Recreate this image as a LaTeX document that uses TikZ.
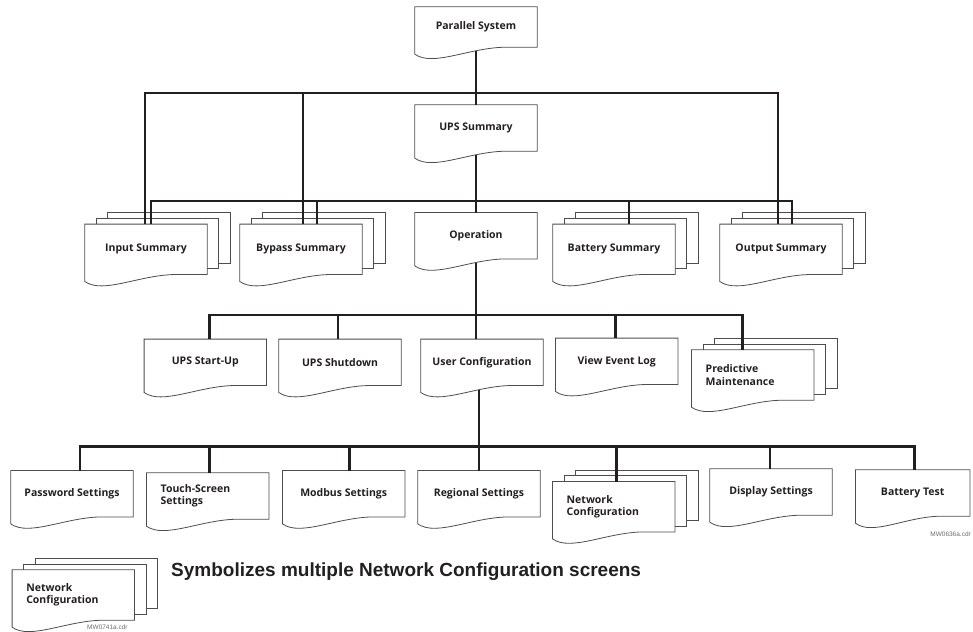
\documentclass[tikz,border=0pt]{standalone}
\usepackage{fontspec}
\setmainfont{Open Sans}
\newfontfamily\arialfont{Liberation Sans}
\definecolor{upsInk}{HTML}{231F20}
\definecolor{upsEdge}{HTML}{4D4D4D}
\definecolor{upsTag}{HTML}{6D6D6D}
\usetikzlibrary{calc}

\begin{document}
\begin{tikzpicture}[x=1pt, y=-1pt,
  outline/.style={draw=upsEdge, line width=0.8pt, line join=miter},
  page/.style={minimum width=122pt, minimum height=46pt, inner sep=0pt,
    font=\bfseries\fontsize{10.5}{12.5}\selectfont, text=upsInk,
    append after command={\pgfextra{\let\thispage\tikzlastnode
      \draw[outline] (\thispage.north west) -- (\thispage.north east) -- (\thispage.south east)
        -- ($(\thispage.south west)!0.75!(\thispage.south east)$)
        .. controls ($(\thispage.south west)!0.45!(\thispage.south east)$)
        and ($(\thispage.south west)!0.15!(\thispage.south east)+(0,20)$)
        .. ($(\thispage.south west)+(0,7)$) -- cycle;}}},
  pages/.style={page, minimum height=50pt,
    append after command={\pgfextra{\let\thispage\tikzlastnode
      \draw[outline] ($(\thispage.north west)+(11.5,0)$) -- ++(0,-5.8)
        -| ($(\thispage.south east)+(11.5,-5.8)$) -- ++(-11.5,0);
      \draw[outline] ($(\thispage.north west)+(23,-5.8)$) -- ++(0,-5.8)
        -| ($(\thispage.south east)+(23,-11.6)$) -- ++(-11.5,0);}}},
  twoline/.style={text width=94pt, align=left},
  link/.style={draw=upsInk, line width=2.6pt},
  tag/.style={font=\arialfont\fontsize{6.5}{8}\selectfont, text=upsTag, inner sep=0pt}
]
  \useasboundingbox (0,0) rectangle (973,631);

  \coordinate (bus0) at (0,93);
  \coordinate (bus1) at (0,201);
  \coordinate (bus2) at (0,315);
  \coordinate (bus3) at (0,446.7);

  \node[page, minimum height=40pt] (parallel) at (476,27) {Parallel System};
  \node[page] (ups) at (476,128) {UPS Summary};

  \node[pages] (input) at (146,249.3) {Input Summary};
  \node[pages] (bypass) at (301,249.3) {Bypass Summary};
  \node[page] (operation) at (476,235.7) {Operation};
  \node[pages] (battery) at (614,249.3) {Battery Summary};
  \node[pages] (output) at (781,249.3) {Output Summary};

  \node[page] (startup) at (205.3,362.3) {UPS Start-Up};
  \node[page] (shutdown) at (340,362.3) {UPS Shutdown};
  \node[page] (userconf) at (482,362.3) {User Configuration};
  \node[page] (eventlog) at (616.7,361.3) {View Event Log};
  \node[pages, twoline] (predictive) at (752.7,375) {Predictive\\Maintenance};

  \node[page] (password) at (72,493.7) {Password Settings};
  \node[page, twoline] (touch) at (207.7,496) {Touch-Screen\\Settings};
  \node[page] (modbus) at (343.7,493.7) {Modbus Settings};
  \node[page] (regional) at (479,493.7) {Regional Settings};
  \node[pages, twoline] (netconf) at (613.7,506.7) {Network\\Configuration};
  \node[page] (display) at (771,492) {Display Settings};
  \node[page, minimum width=114pt] (battest) at (912.7,493) {Battery Test};

  % Parallel System
  \draw[link] ([yshift=-4pt]parallel.south) -- (ups.north);
  \draw[link] ([xshift=-1pt]input.north) |- ([xshift=-3pt]output.north |- bus0) -- ([xshift=-3pt]output.north);
  \draw[link] ([xshift=2pt]bypass.north) -- ([xshift=2pt]bypass.north |- bus0);

  % UPS Summary
  \draw[link] ([yshift=-4pt]ups.south) -- (operation.north);
  \draw[link] ([xshift=5pt]input.north) |- ([xshift=11pt]output.north |- bus1) -- ([xshift=11pt]output.north);
  \draw[link] ([xshift=16pt]bypass.north) -- ([xshift=16pt]bypass.north |- bus1);
  \draw[link] ([xshift=15pt]battery.north) -- ([xshift=15pt]battery.north |- bus1);

  % Operation
  \draw[link] ([yshift=-4pt]operation.south) -- ([xshift=-6pt]userconf.north);
  \draw[link] ([xshift=4pt]startup.north) |- ([xshift=-10pt]predictive.north |- bus2) -- ([xshift=-10pt]predictive.north);
  \draw[link] ([xshift=-2pt]shutdown.north) -- ([xshift=-2pt]shutdown.north |- bus2);
  \draw[link] ([xshift=-1pt]eventlog.north) -- ([xshift=-1pt]eventlog.north |- bus2);

  % User Configuration
  \draw[link] ([xshift=-3pt,yshift=-4pt]userconf.south) -- (regional.north);
  \draw[link] ([xshift=8pt]password.north) |- ([xshift=2pt]battest.north |- bus3) -- ([xshift=2pt]battest.north);
  \draw[link] ([xshift=2pt]touch.north) -- ([xshift=2pt]touch.north |- bus3);
  \draw[link] ([xshift=6pt]modbus.north) -- ([xshift=6pt]modbus.north |- bus3);
  \draw[link] ([xshift=3pt]netconf.north) -- ([xshift=3pt]netconf.north |- bus3);
  \draw[link] ([xshift=-1pt]display.north) -- ([xshift=-1pt]display.north |- bus3);

  \node[tag, anchor=east] (tagmain) at (971,534) {MW0636a.cdr};

  % Legend
  \node[pages, twoline] (sample) at (73.3,595) {Network\\Configuration};
  \node[tag, anchor=west] (tagkey) at (87,627) {MW0741a.cdr};
  \node[font=\arialfont\bfseries\fontsize{19}{22}\selectfont, text=upsInk, anchor=west, inner sep=0pt]
    (legend) at (171,572) {Symbolizes multiple Network Configuration screens};
\end{tikzpicture}
\end{document}
